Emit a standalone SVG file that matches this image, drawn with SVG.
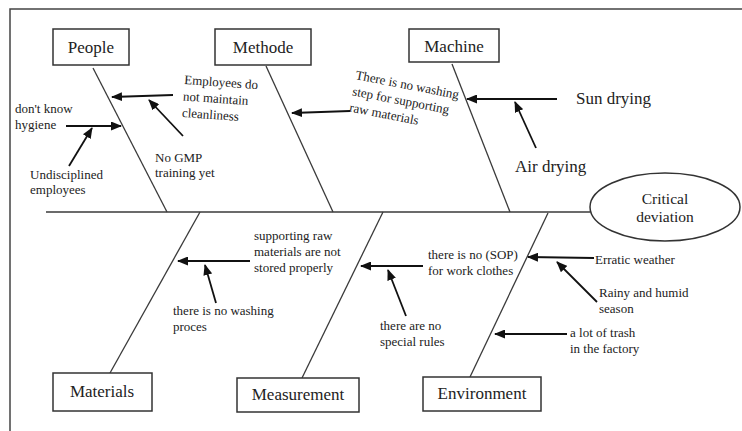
<svg xmlns="http://www.w3.org/2000/svg" width="742" height="431" viewBox="0 0 742 431">
<style>
  .box { fill: #fff; stroke: #333; stroke-width: 1.5; }
  .lbl { font-family: "Liberation Serif", "Times New Roman", serif; font-size: 17px; fill: #222; text-anchor: middle; }
  .t { font-family: "Liberation Serif", "Times New Roman", serif; font-size: 13px; fill: #222; }
  .big { font-family: "Liberation Serif", "Times New Roman", serif; font-size: 17px; fill: #222; }
  .bone { stroke: #3a3a3a; stroke-width: 1.3; fill: none; }
  .arr { stroke: #111; stroke-width: 1.8; fill: none; marker-end: url(#ah); }
</style>
<defs>
  <marker id="ah" markerUnits="userSpaceOnUse" markerWidth="11" markerHeight="9" refX="10" refY="4.5" orient="auto">
    <path d="M0,0 L11,4.5 L0,9 z" fill="#111"/>
  </marker>
</defs>
<rect width="742" height="431" fill="#fff"/>
<g id="frame" stroke="#444" stroke-width="1.5" fill="none">
  <path d="M10,431 L10,9 L742,9"/>
</g>
<g id="connectors">
  <line class="bone" x1="46" y1="212" x2="590" y2="212" style="stroke-width:1.6"/>
  <line class="bone" x1="93" y1="68" x2="167" y2="212"/>
  <line class="bone" x1="266" y1="66" x2="333" y2="212"/>
  <line class="bone" x1="452" y1="64" x2="510" y2="212"/>
  <line class="bone" x1="200" y1="212" x2="110" y2="373"/>
  <line class="bone" x1="383" y1="212" x2="302" y2="378"/>
  <line class="bone" x1="548" y1="213" x2="470" y2="377"/>
  <line class="arr" x1="173" y1="95" x2="112" y2="97"/>
  <line class="arr" x1="183" y1="136" x2="149" y2="100"/>
  <line class="arr" x1="66" y1="126" x2="121" y2="126"/>
  <line class="arr" x1="69" y1="166" x2="92" y2="128"/>
  <line class="arr" x1="350" y1="111" x2="292" y2="113"/>
  <line class="arr" x1="557" y1="99" x2="467" y2="99"/>
  <line class="arr" x1="536" y1="148" x2="515" y2="102"/>
  <line class="arr" x1="250" y1="261" x2="178" y2="261"/>
  <line class="arr" x1="216" y1="303" x2="205" y2="265"/>
  <line class="arr" x1="423" y1="266" x2="361" y2="266"/>
  <line class="arr" x1="406" y1="316" x2="388" y2="270"/>
  <line class="arr" x1="594" y1="258" x2="528" y2="257"/>
  <line class="arr" x1="597" y1="302" x2="557" y2="262"/>
  <line class="arr" x1="567" y1="334" x2="495" y2="334"/>
</g>
<g id="people"><rect class="box" x="53" y="29" width="76" height="36"/><text class="lbl" x="91" y="53">People</text></g>
<g id="methode"><rect class="box" x="215" y="29" width="96" height="36"/><text class="lbl" x="263" y="53">Methode</text></g>
<g id="machine"><rect class="box" x="409" y="29" width="90" height="33"/><text class="lbl" x="454" y="52">Machine</text></g>
<g id="materials"><rect class="box" x="53" y="373" width="99" height="38"/><text class="lbl" x="102" y="397">Materials</text></g>
<g id="measurement"><rect class="box" x="237" y="378" width="122" height="34"/><text class="lbl" x="298" y="400">Measurement</text></g>
<g id="environment"><rect class="box" x="423" y="377" width="118" height="34"/><text class="lbl" x="482" y="399">Environment</text></g>
<g id="effect"><ellipse cx="665" cy="207" rx="75" ry="34" fill="#fff" stroke="#333" stroke-width="1.5"/>
  <text class="lbl" x="665" y="204" style="font-size:15.5px">Critical</text>
  <text class="lbl" x="665" y="222" style="font-size:15.5px">deviation</text></g>
<g id="causes">
  <text class="t" transform="translate(184,84) rotate(4)"><tspan x="0" y="0">Employees do</tspan><tspan x="0" y="16.5">not maintain</tspan><tspan x="0" y="33">cleanliness</tspan></text>
  <text class="t" x="15" y="113">don't know</text>
  <text class="t" x="15" y="129">hygiene</text>
  <text class="t" x="155" y="162">No GMP</text>
  <text class="t" x="155" y="177">training yet</text>
  <text class="t" x="30" y="179">Undisciplined</text>
  <text class="t" x="30" y="194">employees</text>
  <text class="t" transform="translate(355,79) rotate(11)"><tspan x="0" y="0">There is no washing</tspan><tspan x="0" y="16.5">step for supporting</tspan><tspan x="0" y="33">raw materials</tspan></text>
  <text class="big" x="576" y="104">Sun drying</text>
  <text class="big" x="515" y="172">Air drying</text>
  <text class="t" x="254" y="240">supporting raw</text>
  <text class="t" x="254" y="256">materials are not</text>
  <text class="t" x="254" y="272">stored properly</text>
  <text class="t" x="173" y="315">there is no washing</text>
  <text class="t" x="173" y="331">proces</text>
  <text class="t" x="380" y="330">there are no</text>
  <text class="t" x="380" y="346">special rules</text>
  <text class="t" x="428" y="259">there is no (SOP)</text>
  <text class="t" x="428" y="275">for work clothes</text>
  <text class="t" x="595" y="264">Erratic weather</text>
  <text class="t" x="599" y="297">Rainy and humid</text>
  <text class="t" x="599" y="313">season</text>
  <text class="t" x="570" y="337">a lot of trash</text>
  <text class="t" x="570" y="353">in the factory</text>
</g>
</svg>
